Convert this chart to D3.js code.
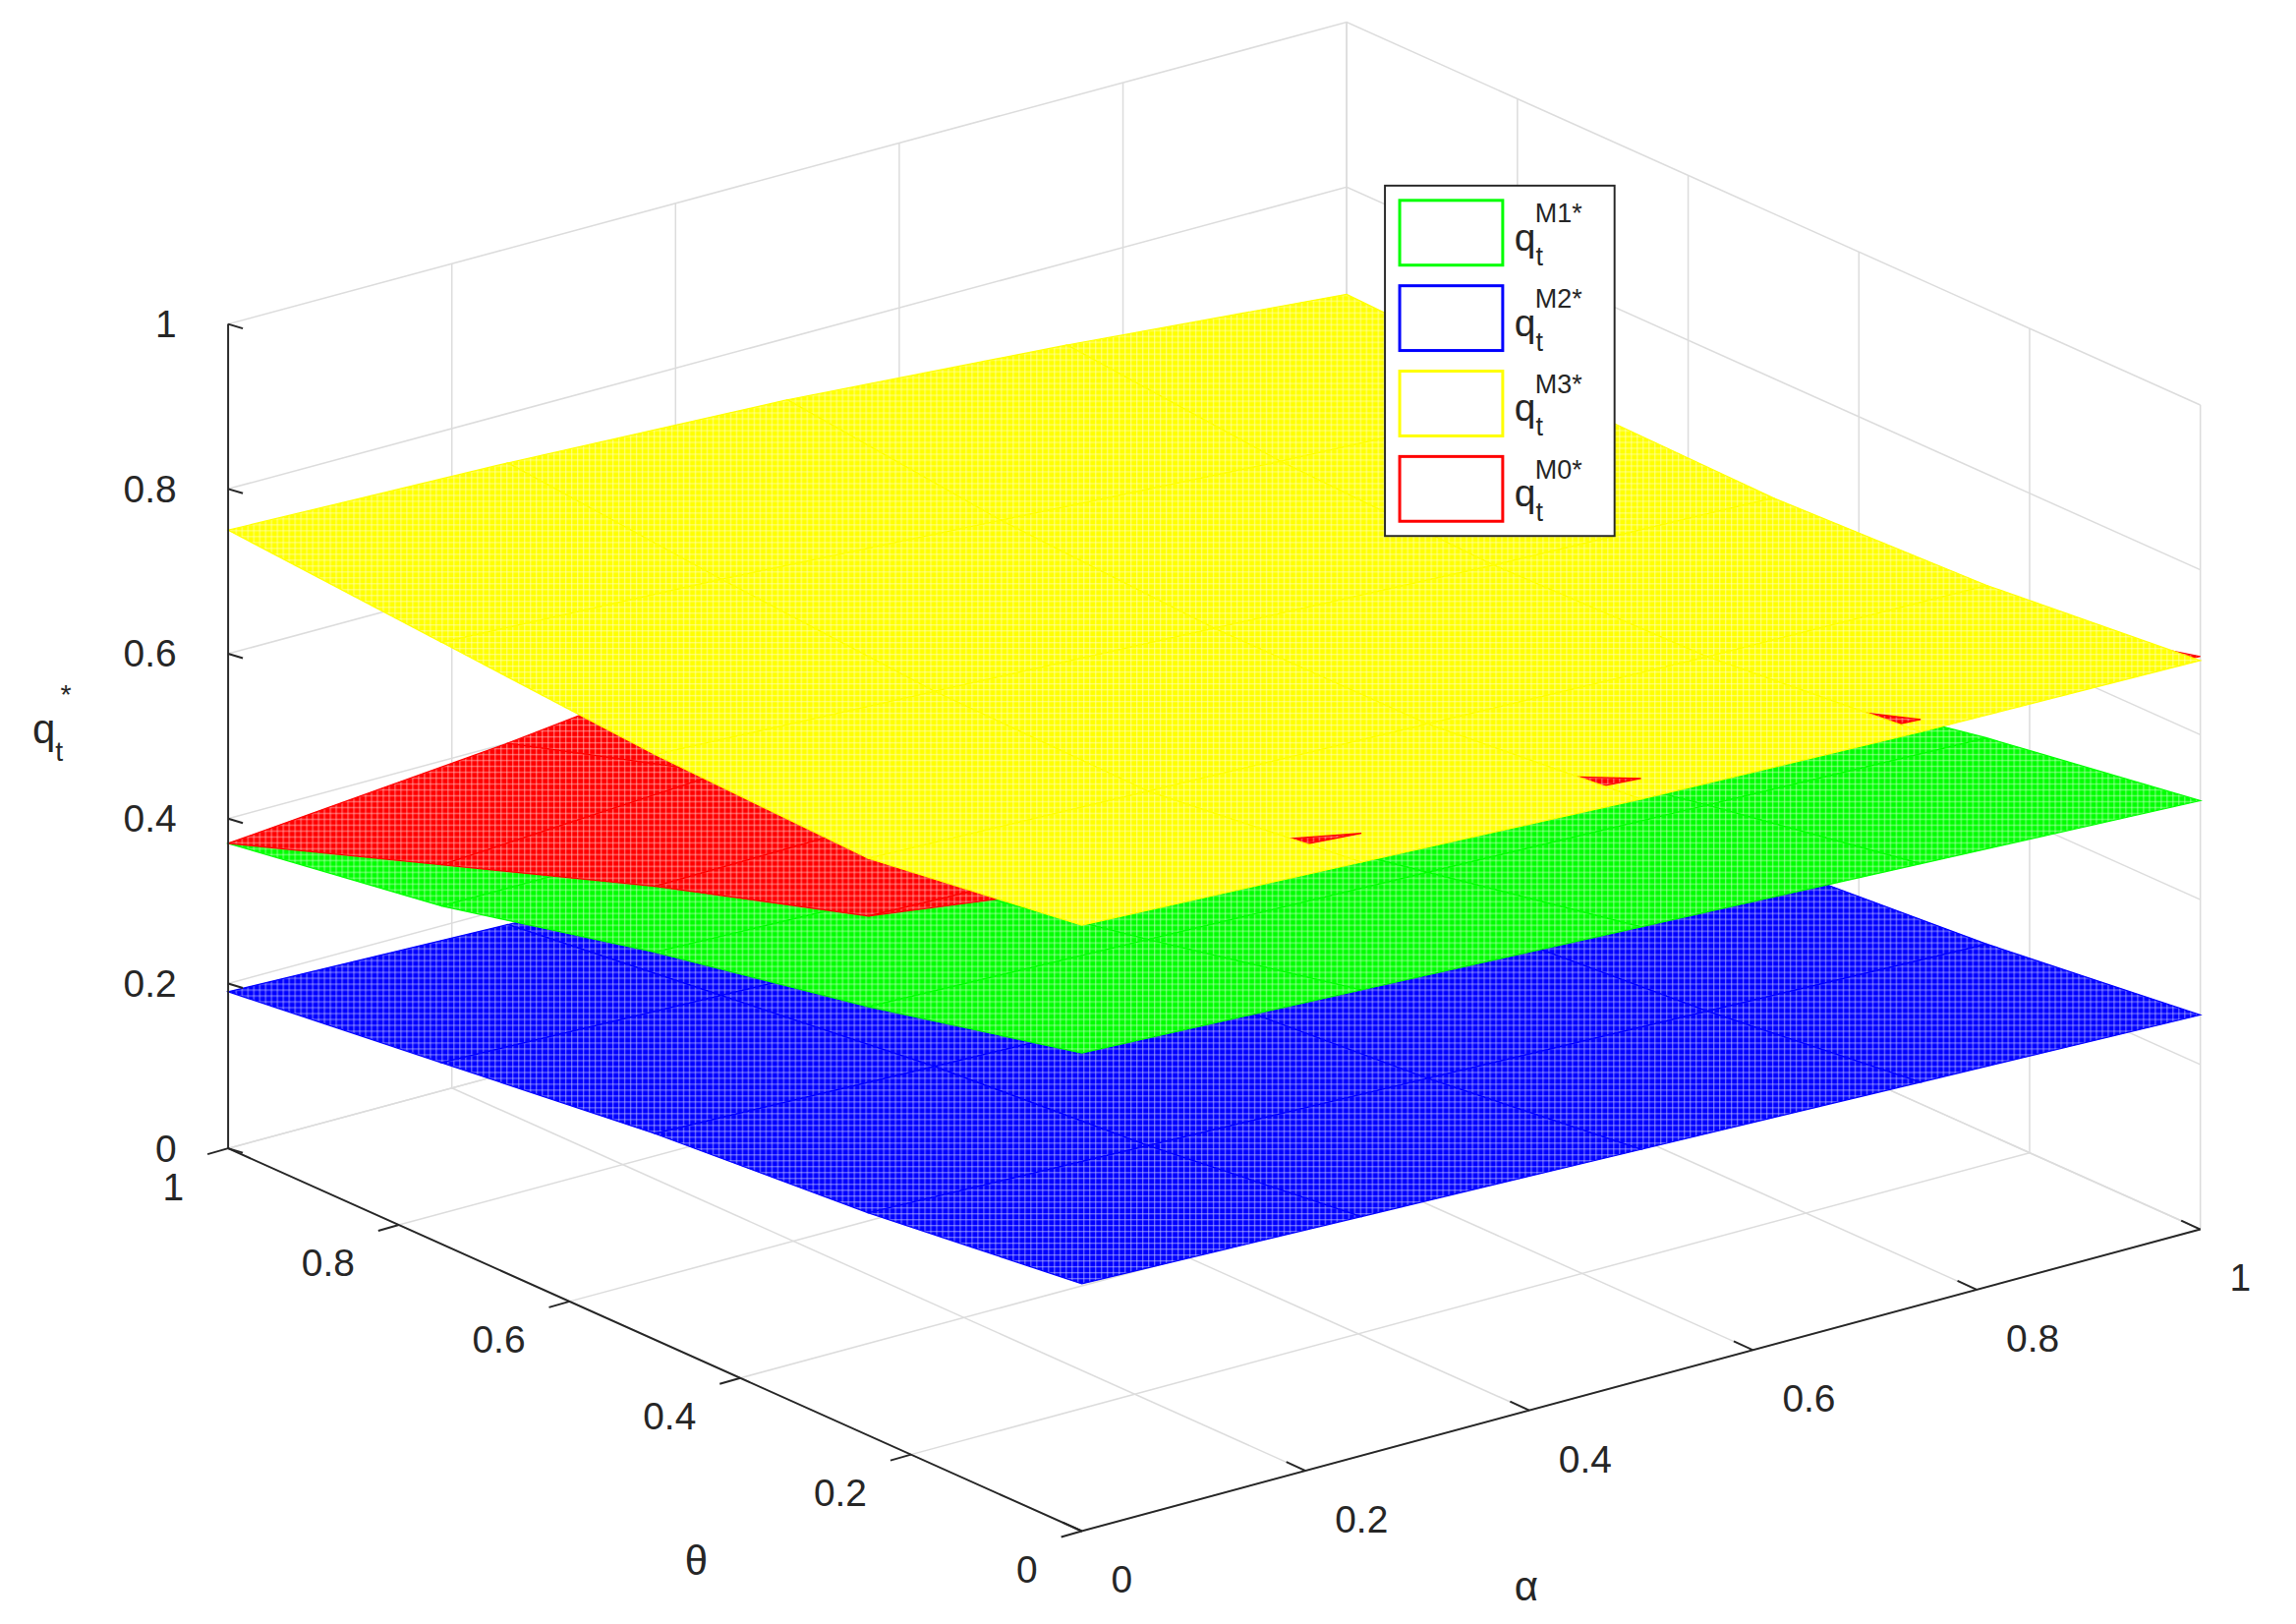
<!DOCTYPE html>
<html>
<head>
<meta charset="UTF-8">
<script src="https://d3js.org/d3.v7.min.js"></script>
<style>
  body { margin: 0; background: #fff; }
  text { font-family: Arial, "Liberation Sans", sans-serif; fill: #262626; }
</style>
</head>
<body>
<svg id="chart" width="2336" height="1652" viewBox="0 0 1560 1103"></svg>
<script>
// grid positions (alpha across columns, theta down rows)
const alphaGrid = [0, 0.25, 0.5, 0.75, 1];
const thetaGrid = [0, 0.25, 0.5, 0.75, 1];
const ticks = [0, 0.2, 0.4, 0.6, 0.8, 1];
const tickLabels = ["0", "0.2", "0.4", "0.6", "0.8", "1"];

// values, rows = theta, cols = alpha
const qM2 = [
  [0.30, 0.29, 0.28, 0.27, 0.26],
  [0.27, 0.26, 0.25, 0.24, 0.23],
  [0.25, 0.24, 0.23, 0.22, 0.21],
  [0.22, 0.21, 0.20, 0.19, 0.18],
  [0.19, 0.18, 0.17, 0.16, 0.15]
];
const qM1 = [
  [0.58, 0.565, 0.55, 0.535, 0.52],
  [0.52, 0.51, 0.50, 0.49, 0.48],
  [0.47, 0.46, 0.45, 0.44, 0.43],
  [0.41, 0.41, 0.41, 0.41, 0.41],
  [0.37, 0.375, 0.38, 0.39, 0.40]
];
const qM0 = [
  [0.78, 0.755, 0.73, 0.71, 0.695],
  [0.63, 0.62, 0.62, 0.625, 0.63],
  [0.55, 0.555, 0.56, 0.57, 0.58],
  [0.46, 0.48, 0.50, 0.53, 0.55],
  [0.37, 0.40, 0.44, 0.48, 0.52]
];
const qM3 = [
  [0.735, 0.72, 0.705, 0.695, 0.69],
  [0.70, 0.69, 0.68, 0.67, 0.665],
  [0.71, 0.695, 0.68, 0.665, 0.655],
  [0.73, 0.715, 0.695, 0.675, 0.66],
  [0.75, 0.74, 0.725, 0.70, 0.67]
];
const legendNames = ["M1*", "M2*", "M3*", "M0*"];
const legendColors = ["#00ff00", "#0000ff", "#ffff00", "#ff0000"];
const surfaces = [
  {v: qM2, c: "#0000ff"},
  {v: qM1, c: "#00ff00"},
  {v: qM0, c: "#ff0000"},
  {v: qM3, c: "#ffff00"}
];

const svg = d3.select("#chart");
// projected axis vectors (screen offsets per unit)
const ax = d3.scaleLinear().domain([0, 1]).range([0, 760]);
const ay = d3.scaleLinear().domain([0, 1]).range([0, -205]);
const tx = d3.scaleLinear().domain([0, 1]).range([0, -580]);
const ty = d3.scaleLinear().domain([0, 1]).range([0, -260]);
const zy = d3.scaleLinear().domain([0, 1]).range([0, -560]);
const O = [735, 1040];
function P(a, t, z) {
  return [O[0] + ax(a) + tx(t), O[1] + ay(a) + ty(t) + zy(z)];
}
const line = d3.line();

// pattern for the mesh look
const defs = svg.append("defs");
surfaces.forEach((s, i) => {
  const p = defs.append("pattern").attr("id", "mesh" + i)
    .attr("patternUnits", "userSpaceOnUse").attr("width", 4).attr("height", 4);
  p.append("rect").attr("width", 4).attr("height", 4).attr("fill", s.c);
  p.append("path").attr("d", "M0,0.5H4M0.5,0V4").attr("stroke", "#fff")
    .attr("stroke-width", 0.45).attr("opacity", 0.8);
});

// walls grid
const grid = svg.append("g").attr("stroke", "#dcdcdc").attr("stroke-width", 1).attr("fill", "none");
ticks.forEach(v => {
  grid.append("path").attr("d", line([P(v, 1, 0), P(v, 1, 1)]));
  grid.append("path").attr("d", line([P(1, v, 0), P(1, v, 1)]));
  grid.append("path").attr("d", line([P(0, 1, v), P(1, 1, v), P(1, 0, v)]));
  grid.append("path").attr("d", line([P(v, 0, 0), P(v, 1, 0)]));
  grid.append("path").attr("d", line([P(0, v, 0), P(1, v, 0)]));
});

// surface quads, painter's order
const quads = [];
surfaces.forEach((s, si) => {
  for (let i = 0; i < thetaGrid.length - 1; i++) {
    for (let j = 0; j < alphaGrid.length - 1; j++) {
      const pts = [[i, j], [i, j + 1], [i + 1, j + 1], [i + 1, j]];
      const zm = d3.mean(pts, ([r, c]) => s.v[r][c]);
      const am = (alphaGrid[j] + alphaGrid[j + 1]) / 2, tm = (thetaGrid[i] + thetaGrid[i + 1]) / 2;
      quads.push({
        si, c: s.c,
        pts: pts.map(([r, c]) => P(alphaGrid[c], thetaGrid[r], s.v[r][c])),
        depth: zm * 3 - (am + tm) * 0.15
      });
    }
  }
});
quads.sort((a, b) => a.depth - b.depth);
svg.append("g").selectAll("path").data(quads).join("path")
  .attr("d", d => line(d.pts) + "Z")
  .attr("fill", d => "url(#mesh" + d.si + ")")
  .attr("stroke", d => d.c).attr("stroke-width", 0.8);

// axes
const axes = svg.append("g").attr("stroke", "#262626").attr("stroke-width", 1.3).attr("fill", "none");
axes.append("path").attr("d", line([P(0, 1, 0), P(0, 1, 1)]));
axes.append("path").attr("d", line([P(0, 1, 0), P(0, 0, 0), P(1, 0, 0)]));
ticks.forEach((v, i) => {
  const pz = P(0, 1, v);
  axes.append("path").attr("d", line([pz, [pz[0] + 10, pz[1] + 3]]));
  svg.append("text").attr("x", pz[0] - 35).attr("y", pz[1] + 9).attr("text-anchor", "end")
    .attr("font-size", 26).text(tickLabels[i]);
  const pt = P(0, v, 0);
  axes.append("path").attr("d", line([pt, [pt[0] - 14, pt[1] + 4]]));
  svg.append("text").attr("x", pt[0] - 30).attr("y", pt[1] + 35).attr("text-anchor", "end")
    .attr("font-size", 26).text(tickLabels[i]);
  const pa = P(v, 0, 0);
  axes.append("path").attr("d", line([pa, [pa[0] - 13, pa[1] - 6]]));
  svg.append("text").attr("x", pa[0] + 20).attr("y", pa[1] + 42).attr("text-anchor", "start")
    .attr("font-size", 26).text(tickLabels[i]);
});

// axis labels
svg.append("text").attr("x", 473).attr("y", 1070).attr("text-anchor", "middle").attr("font-size", 28).text("θ");
svg.append("text").attr("x", 1037).attr("y", 1087).attr("text-anchor", "middle").attr("font-size", 28).text("α");
const ql = svg.append("text").attr("x", 22).attr("y", 505).attr("font-size", 28);
ql.append("tspan").text("q");
ql.append("tspan").attr("dy", 12).attr("font-size", 19).text("t");
svg.append("text").attr("x", 41).attr("y", 478).attr("font-size", 19).text("*");

// legend
const lg = svg.append("g").attr("transform", "translate(941,126)");
lg.append("rect").attr("width", 156).attr("height", 238).attr("fill", "#fff").attr("stroke", "#262626").attr("stroke-width", 1.3);
legendNames.forEach((n, i) => {
  const y = 10 + i * 58;
  lg.append("rect").attr("x", 10).attr("y", y).attr("width", 70).attr("height", 44)
    .attr("fill", "#fff").attr("stroke", legendColors[i]).attr("stroke-width", 2);
  const t = lg.append("text").attr("x", 88).attr("y", y + 34).attr("font-size", 26);
  t.append("tspan").text("q");
  t.append("tspan").attr("dy", 10).attr("font-size", 18).text("t");
  lg.append("text").attr("x", 102).attr("y", y + 15).attr("font-size", 18).text(n);
});
</script>
</body>
</html>
